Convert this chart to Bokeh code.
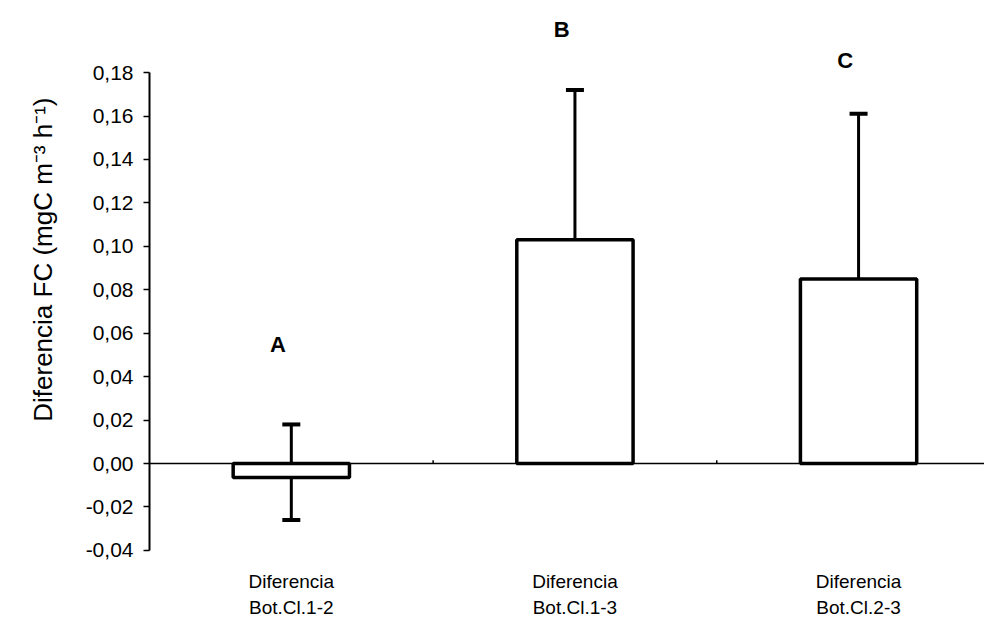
from bokeh.plotting import figure
from bokeh.models import (Range1d, FixedTicker, ColumnDataSource, Whisker, TeeHead, Span, Title)
from bokeh.core.properties import value
from bokeh.embed import file_html
from bokeh.resources import INLINE

# ---- data ----
categories = ["Diferencia\nBot.Cl.1-2", "Diferencia\nBot.Cl.1-3", "Diferencia\nBot.Cl.2-3"]
cat_x = [1, 2, 3]
means = [-0.0064, 0.103, 0.085]
err_low = [-0.026, 0.076, 0.045]
err_high = [0.018, 0.172, 0.161]
letters = ["A", "B", "C"]
letter_y = [0.055, 0.200, 0.1855]
tick_values = [-0.04, -0.02, 0.0, 0.02, 0.04, 0.06, 0.08, 0.10, 0.12, 0.14, 0.16, 0.18]
tick_labels = ["-0,04", "-0,02", "0,00", "0,02", "0,04", "0,06", "0,08", "0,10",
               "0,12", "0,14", "0,16", "0,18"]
separators = [1.5, 2.5]
y_title = "Diferencia FC (mgC m\u207b\u00b3 h\u207b\u00b9)"

FONT = "Liberation Sans"

p = figure(width=984, height=619, output_backend="svg", toolbar_location=None,
           x_range=Range1d(0.5, 3.444), y_range=Range1d(-0.0718, 0.2095),
           min_border_left=148, min_border_right=0, min_border_top=8, min_border_bottom=0)
p.xaxis.visible = False
p.grid.visible = False
p.outline_line_color = None
p.background_fill_color = "white"

yax = p.yaxis[0]
yax.ticker = FixedTicker(ticks=tick_values, minor_ticks=[])
yax.major_label_overrides = {v: l for v, l in zip(tick_values, tick_labels)}
yax.bounds = (tick_values[0], tick_values[-1])
yax.axis_line_width = 2
yax.axis_line_color = "black"
yax.major_tick_in = 0
yax.major_tick_out = 6
yax.major_tick_line_width = 1.5
yax.minor_tick_line_color = None
yax.major_label_text_font = FONT
yax.major_label_text_font_size = "21px"
yax.major_label_text_color = "black"
yax.major_label_standoff = 10

p.add_layout(Title(text=y_title, align="right", offset=89, standoff=50,
                   text_font=FONT, text_font_size="26px", text_font_style="normal",
                   text_color="black"), "left")

# zero line
p.add_layout(Span(location=0, dimension="width", line_color="black", line_width=1.5))
p.segment(x0=separators, x1=separators, y0=[0, 0], y1=[0.0015, 0.0015],
          line_color="black", line_width=1.5)

src = ColumnDataSource(dict(x=cat_x, m=means, lo=err_low, hi=err_high,
                            lab=categories, let=letters, ly=letter_y,
                            lx=[c - 0.047 for c in cat_x]))

p.vbar(x="x", top="m", bottom=0, width=0.41, source=src,
       fill_color="white", line_color="black", line_width=3.5)

w = Whisker(base="x", upper="hi", lower="lo", source=src, line_width=3,
            line_color="black",
            upper_head=TeeHead(size=18, line_width=4, line_color="black"),
            lower_head=TeeHead(size=18, line_width=4, line_color="black"))
p.add_layout(w)

p.text(x="lx", y="ly", text="let", source=src, text_align="center",
       text_baseline="middle", text_font=value(FONT), text_font_size="22px",
       text_font_style="bold", text_color="black")

p.text(x="x", y=-0.0497, text="lab", source=src, text_align="center",
       text_baseline="top", text_font=value(FONT), text_font_size="19px",
       text_line_height=1.2, text_color="black")

open("out.html", "w").write(file_html(p, INLINE))
